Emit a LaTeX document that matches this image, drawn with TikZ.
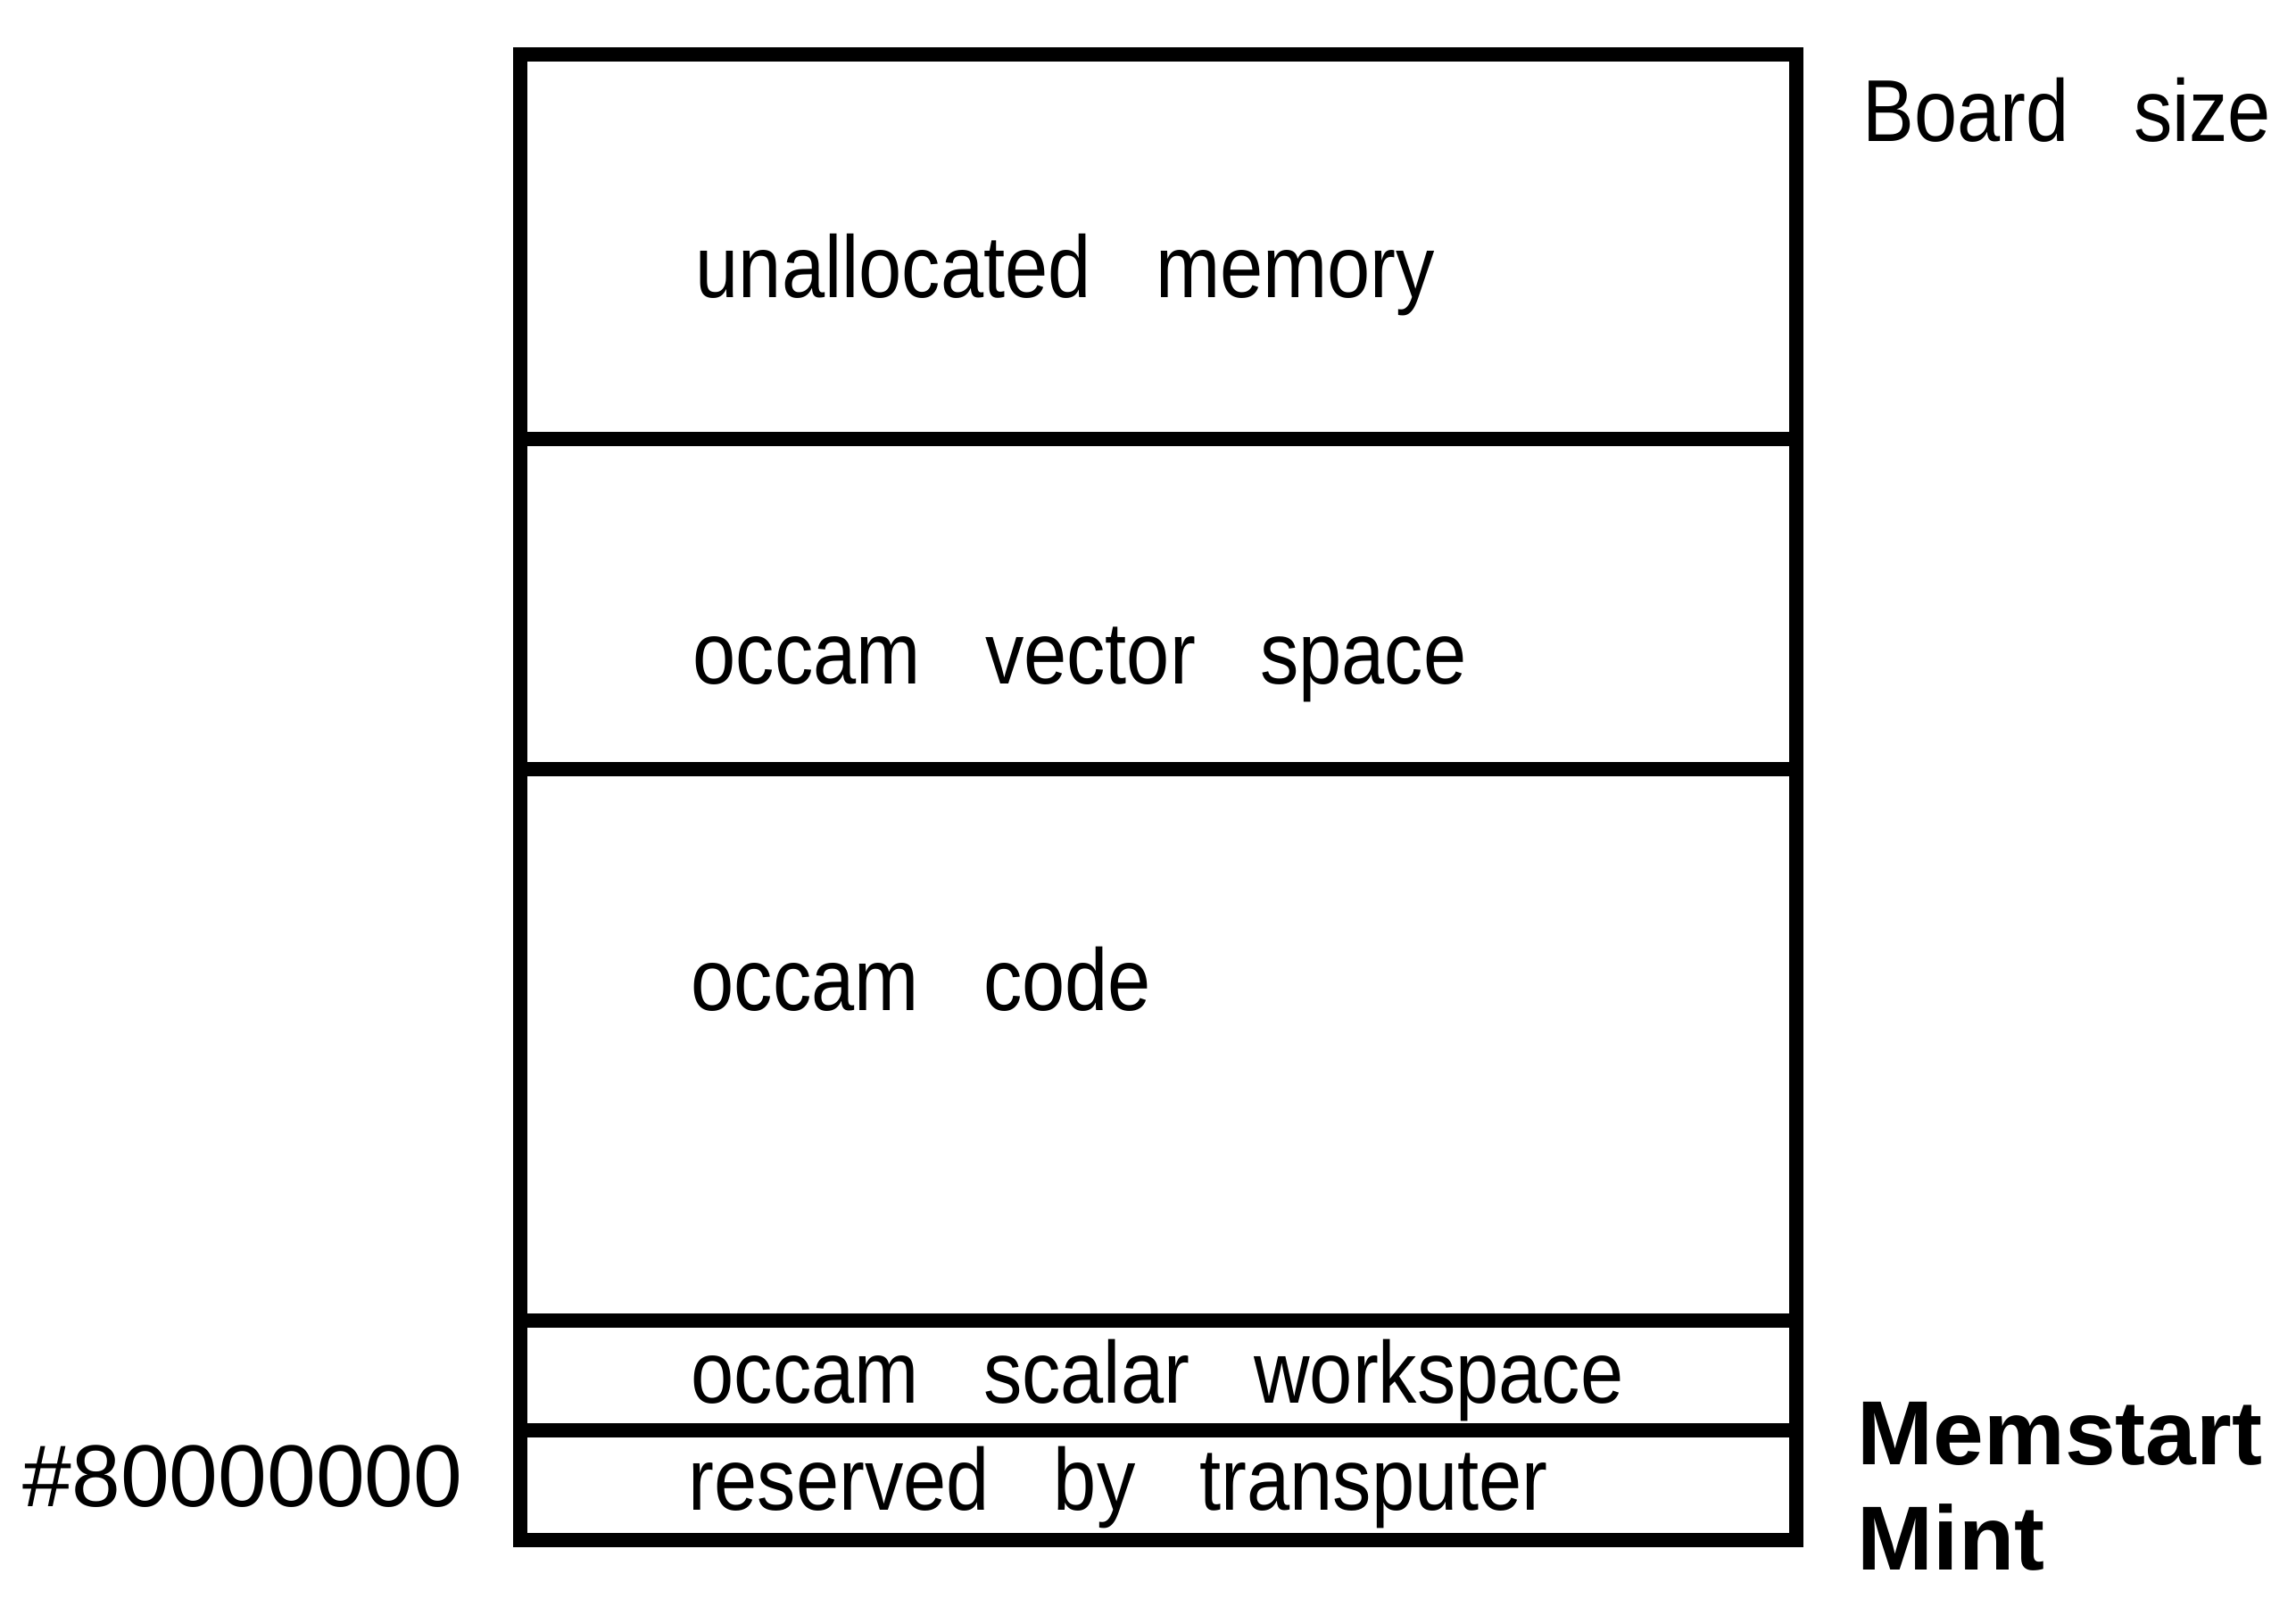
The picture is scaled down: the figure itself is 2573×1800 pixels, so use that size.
\documentclass[tikz,border=0pt]{standalone}
\usepackage{fontspec}
\setmainfont{Liberation Sans}
\newfontfamily\narrowfont[FakeStretch=0.88,WordSpace=3]{Liberation Sans}
\begin{document}
\begin{tikzpicture}[x=0.01cm, y=-0.01cm,
  every node/.style={inner sep=0pt, anchor=base west},
  region/.style={font={\narrowfont\fontsize{28}{34}\selectfont}},
  addr/.style={font={\fontsize{28}{34}\selectfont}},
  pointer/.style={font={\bfseries\fontsize{29}{35}\selectfont}},
  wall/.style={line width=4.8pt}]
  \useasboundingbox (0,0) rectangle (2573,1800);

  \draw[wall] (583,61) rectangle (2013,1726);
  \draw[wall] (583,492) -- (2013,492);
  \draw[wall] (583,862) -- (2013,862);
  \draw[wall] (583,1480) -- (2013,1480);
  \draw[wall] (583,1603) -- (2013,1603);

  \node[region] (unalloc) at (779,333) {unallocated memory};
  \node[region] (vector) at (776,766) {occam vector space};
  \node[region] (code) at (774,1132) {occam code};
  \node[region] (scalar) at (774,1572) {occam scalar workspace};
  \node[region] (reserved) at (771,1692) {reserved by transputer};

  \node[region] (board) at (2087,159) {Board size};
  \node[pointer] (memstart) at (2081,1641) {Memstart};
  \node[pointer] (mint) at (2081,1759) {Mint};
  \node[addr] (base) at (25,1688) {\#80000000};
\end{tikzpicture}
\end{document}
